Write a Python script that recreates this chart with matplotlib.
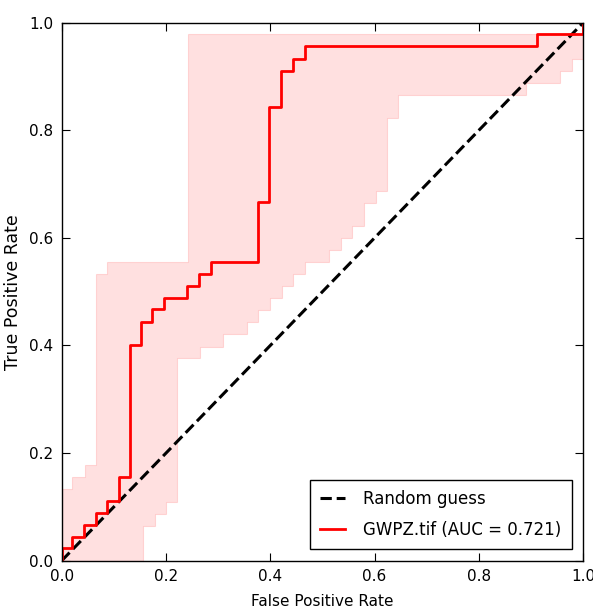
import numpy as np
import matplotlib
matplotlib.use('Agg')
import matplotlib.pyplot as plt

# ROC curve (step points: fpr where tpr jumps, new tpr)
fpr = [0.0, 0.0, 0.020, 0.042, 0.065, 0.087, 0.109, 0.131, 0.152, 0.174, 0.196,
       0.241, 0.263, 0.287, 0.376, 0.398, 0.421, 0.444, 0.467, 0.912, 1.0]
tpr = [0.0, 0.023, 0.044, 0.067, 0.089, 0.111, 0.156, 0.400, 0.444, 0.467, 0.489,
       0.511, 0.533, 0.556, 0.667, 0.844, 0.911, 0.933, 0.956, 0.978, 1.0]

# confidence band, upper and lower edges (step-post)
up_x = [0.0, 0.020, 0.045, 0.065, 0.086, 0.243, 1.0]
up_y = [0.133, 0.156, 0.178, 0.533, 0.556, 0.978, 0.978]
lo_x = [0.0, 0.155, 0.178, 0.200, 0.222, 0.265, 0.310, 0.356, 0.377, 0.400, 0.423,
        0.444, 0.467, 0.512, 0.535, 0.557, 0.579, 0.602, 0.623, 0.645, 0.890,
        0.956, 0.978, 1.0]
lo_y = [0.0, 0.065, 0.087, 0.109, 0.376, 0.398, 0.421, 0.444, 0.466, 0.489, 0.511,
        0.533, 0.556, 0.578, 0.599, 0.622, 0.665, 0.688, 0.822, 0.866, 0.888,
        0.910, 0.933, 0.933]

label = 'GWPZ.tif (AUC = 0.721)'


def step_at(xs, ys, grid):
    idx = np.searchsorted(xs, grid, side='right') - 1
    return np.asarray(ys)[np.clip(idx, 0, len(ys) - 1)]


grid = np.unique(np.concatenate([up_x, lo_x]))
upper = step_at(up_x, up_y, grid)
lower = step_at(lo_x, lo_y, grid)

fig = plt.figure(figsize=(5.93, 6.12), dpi=100)
ax = fig.add_axes([0.104, 0.0838, 0.8795, 0.8792])

ax.fill_between(grid, lower, upper, step='post', color='red', alpha=0.12, lw=0.8)
ax.plot([0, 1], [0, 1], 'k--', lw=2.2, label='Random guess')
ax.plot(fpr, tpr, color='red', lw=2.0, drawstyle='steps-post', label=label)

ax.set_xlim(0, 1)
ax.set_ylim(0, 1)
ticks = np.arange(0, 1.01, 0.2)
ax.set_xticks(ticks)
ax.set_yticks(ticks)
ax.set_xticklabels(['%.1f' % t for t in ticks])
ax.set_yticklabels(['%.1f' % t for t in ticks])
ax.tick_params(direction='in', top=True, right=True, length=5.5, width=0.8,
               labelsize=11, pad=6)
for s in ax.spines.values():
    s.set_linewidth(1.0)

ax.set_xlabel('False Positive Rate', fontsize=11, labelpad=7)
ax.set_ylabel('True Positive Rate', fontsize=12.5, labelpad=5)

leg = ax.legend(loc='lower right', fontsize=12, fancybox=False, edgecolor='black',
                framealpha=1, handlelength=1.5, handletextpad=1.1,
                borderaxespad=0.7, borderpad=0.6, labelspacing=0.8)
leg.get_frame().set_linewidth(1.0)

fig.savefig('out.png', dpi=100)
